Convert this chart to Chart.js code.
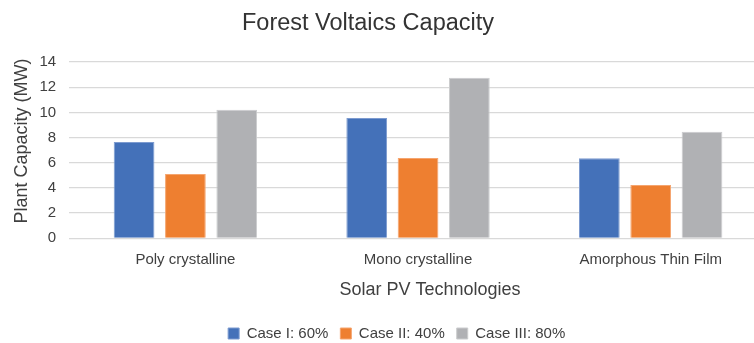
<!DOCTYPE html>
<html>
<head>
<meta charset="utf-8">
<script src="https://cdn.jsdelivr.net/npm/chart.js@4/dist/chart.umd.min.js"></script>
<style>
  html, body { margin: 0; padding: 0; background: #ffffff; overflow: hidden; }
  #wrap { width: 754px; height: 343px; overflow: hidden; position: relative; }
  canvas { display: block; }
</style>
</head>
<body>
<div id="wrap"><canvas id="c" width="768" height="343"></canvas></div>
<script>
const chartTitle = 'Forest Voltaics Capacity';
const xTitle = 'Solar PV Technologies';
const yTitle = 'Plant Capacity (MW)';
const categories = ['Poly crystalline', 'Mono crystalline', 'Amorphous Thin Film'];
const seriesNames = ['Case I: 60%', 'Case II: 40%', 'Case III: 80%'];
const caseI = [7.65, 9.55, 6.35];
const caseII = [5.1, 6.37, 4.23];
const caseIII = [10.2, 12.74, 8.46];
const yTicks = [0, 2, 4, 6, 8, 10, 12, 14];

const FONT = "'Liberation Sans', Arial, sans-serif";
Chart.defaults.font.family = FONT;
Chart.defaults.color = '#404040';

// Titles drawn in canvas text at fixed anchor points
const titlesPlugin = {
  id: 'titles',
  afterDraw(chart) {
    const ctx = chart.ctx;
    ctx.save();
    ctx.fillStyle = '#333333';
    ctx.textAlign = 'center';
    ctx.textBaseline = 'alphabetic';
    ctx.font = '23.5px ' + FONT;
    ctx.fillText(chartTitle, 368, 30);
    ctx.fillStyle = '#404040';
    ctx.font = '18px ' + FONT;
    ctx.fillText(xTitle, 430, 295);
    ctx.translate(27, 141);
    ctx.rotate(-Math.PI / 2);
    ctx.fillText(yTitle, 0, 0);
    ctx.restore();
  }
};

new Chart(document.getElementById('c'), {
  type: 'bar',
  data: {
    labels: categories,
    datasets: [
      { label: seriesNames[0], data: caseI, backgroundColor: '#4471B9', borderColor: '#7D9BD0', borderWidth: 1 },
      { label: seriesNames[1], data: caseII, backgroundColor: '#EE7F30', borderColor: '#F5A56F', borderWidth: 1 },
      { label: seriesNames[2], data: caseIII, backgroundColor: '#B0B1B4', borderColor: '#CBCCCE', borderWidth: 1 }
    ]
  },
  options: {
    responsive: false,
    animation: false,
    devicePixelRatio: 1,
    layout: { padding: { top: 62, left: 26.4, right: 1, bottom: -8 } },
    datasets: { bar: { categoryPercentage: 0.662, barPercentage: 0.793 } },
    plugins: {
      title: { display: false },
      tooltip: { enabled: false },
      legend: {
        position: 'bottom',
        labels: {
          boxWidth: 11, boxHeight: 11, padding: 12,
          font: { size: 15 }, color: '#404040'
        }
      }
    },
    scales: {
      x: {
        grid: { display: false, drawTicks: false },
        border: { display: false },
        ticks: { font: { size: 15 }, color: '#404040', padding: 13 },
        // room below the category labels for the axis title
        afterFit(scale) { scale.height += 31.7; }
      },
      y: {
        min: 0, max: 14,
        afterBuildTicks(scale) { scale.ticks = yTicks.map(v => ({ value: v })); },
        grid: { color: '#D9D9D9', lineWidth: 1.3, drawTicks: false },
        border: { display: false },
        ticks: { font: { size: 15 }, color: '#404040', padding: 13 }
      }
    }
  },
  plugins: [titlesPlugin]
});
</script>
</body>
</html>
